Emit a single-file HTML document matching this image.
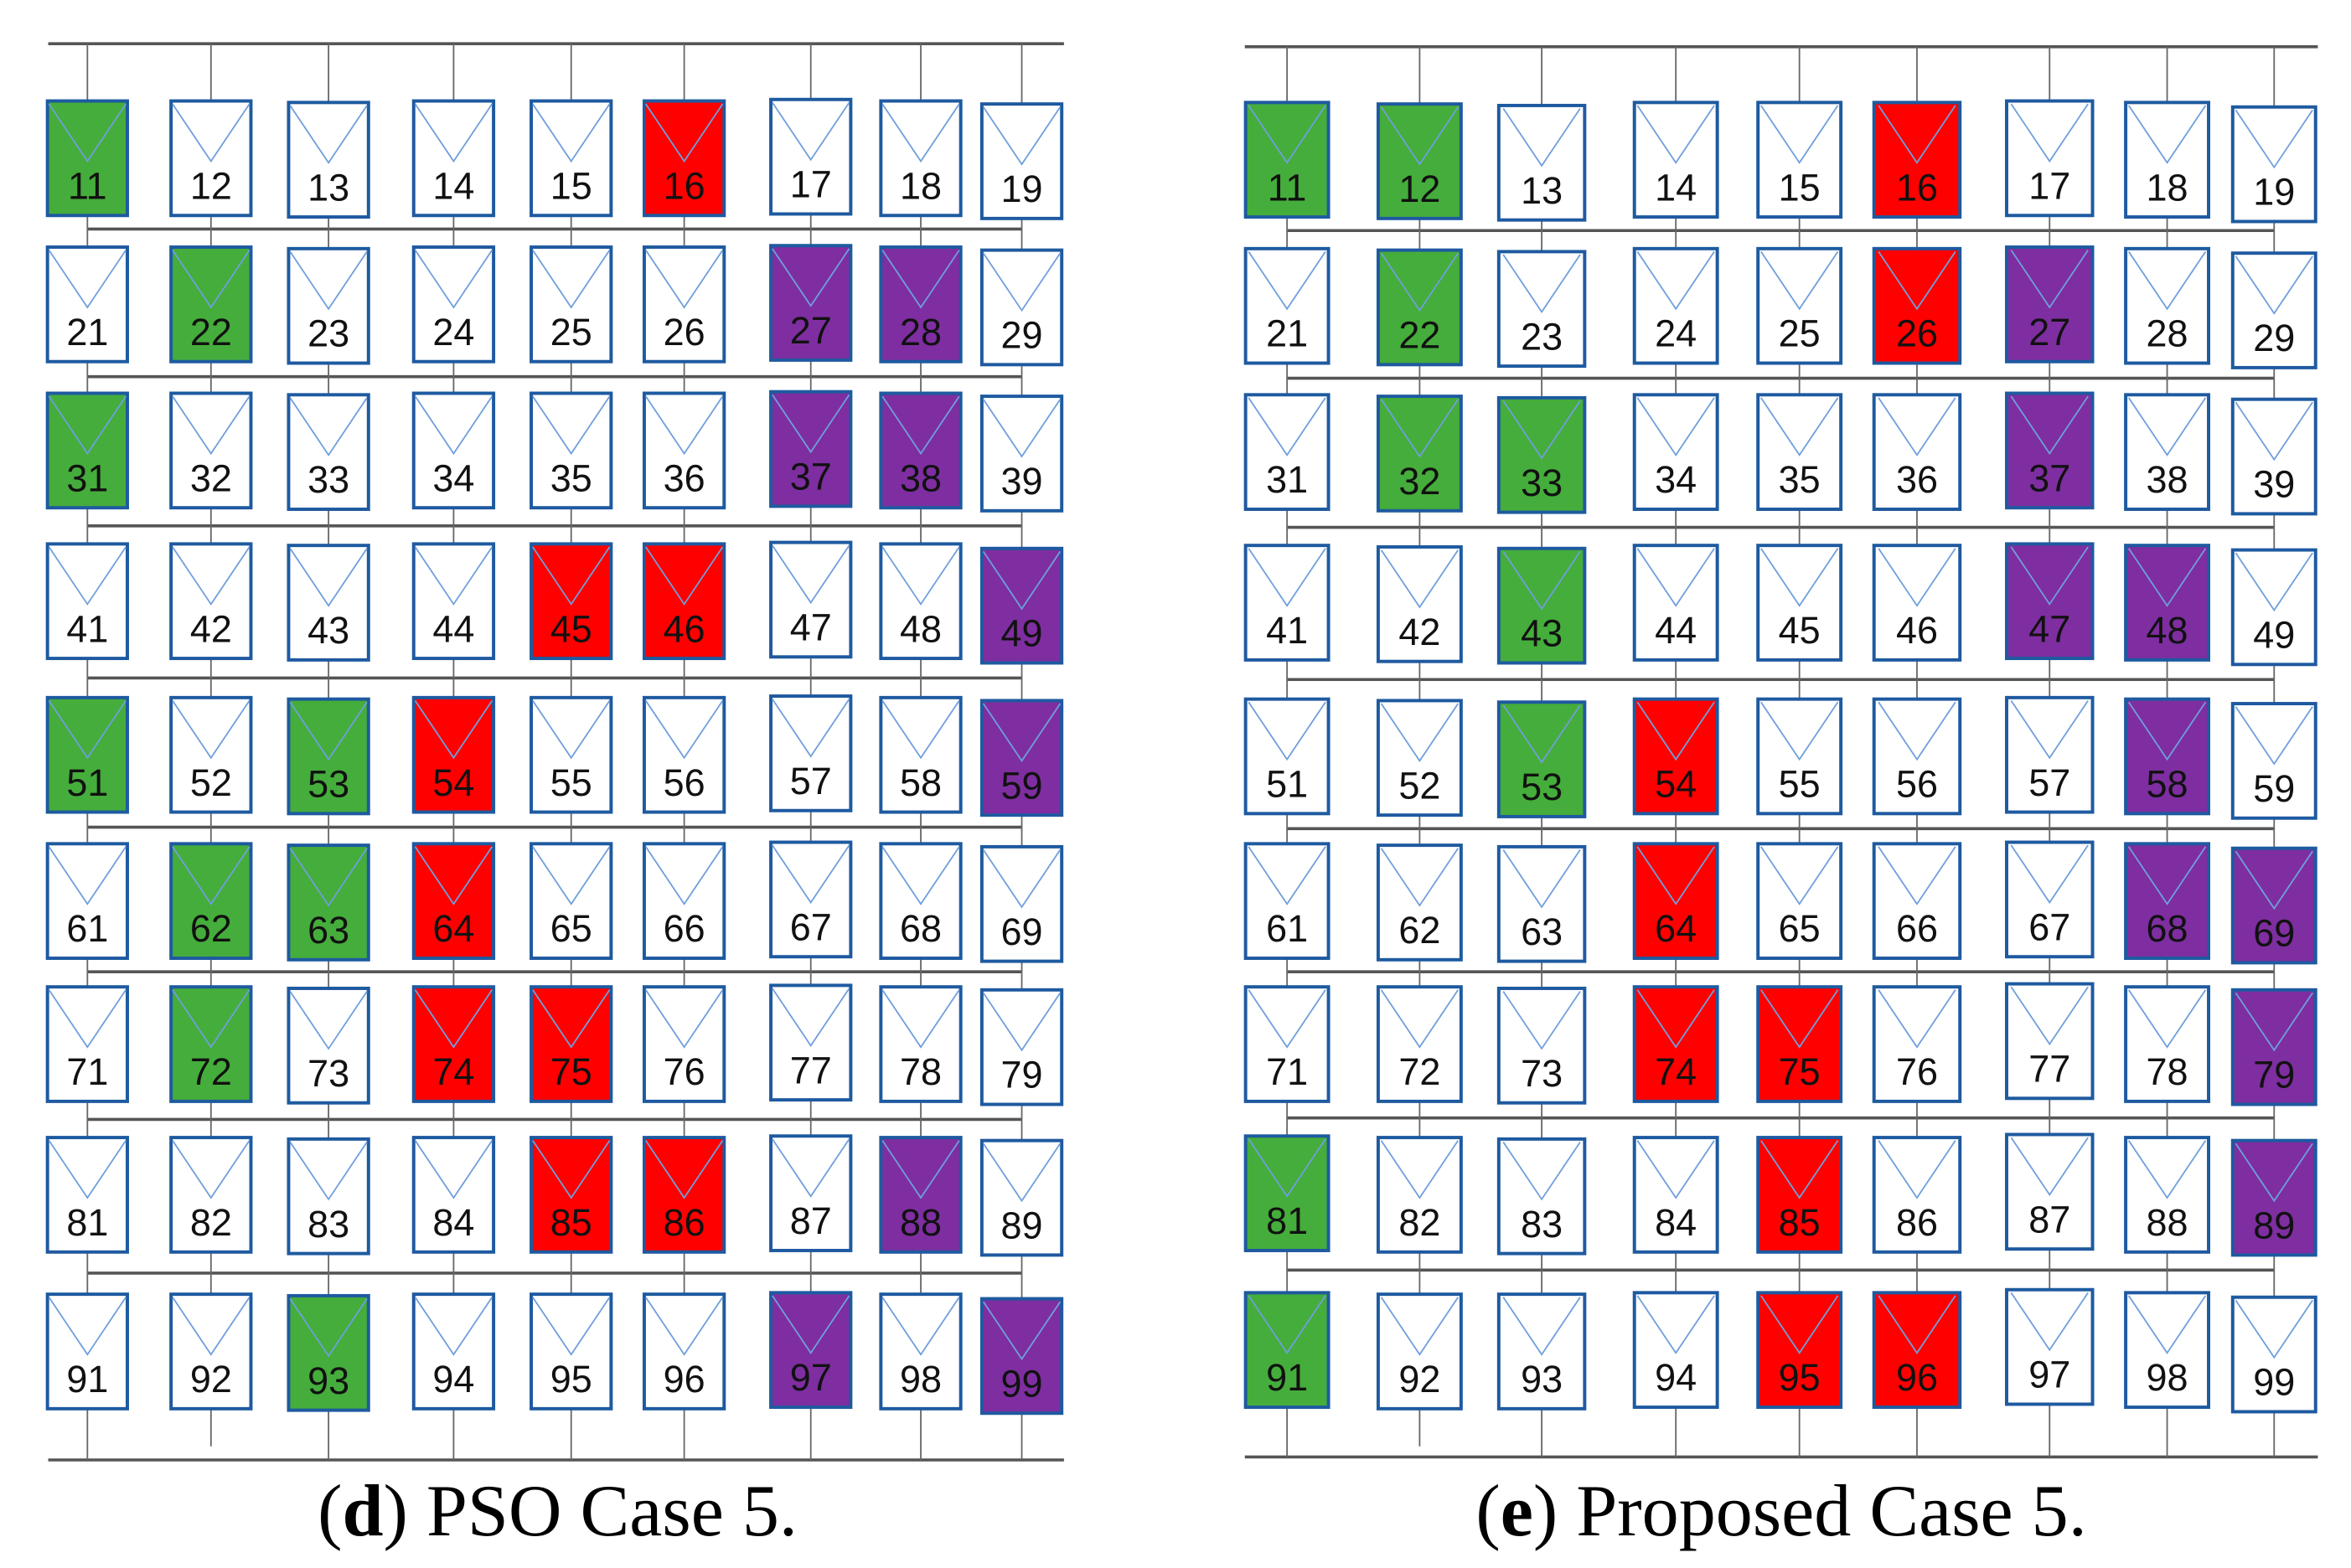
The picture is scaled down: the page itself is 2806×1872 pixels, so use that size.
<!DOCTYPE html>
<html><head><meta charset="utf-8"><style>
html,body{margin:0;padding:0;background:#fff}
svg{display:block}
.b{stroke:#1e5aa0;stroke-width:2.2}
.w{fill:#fff}.g{fill:#45ad3b}.r{fill:#ff0000}.p{fill:#7e2ea0}
.t{fill:none;stroke:#6f9fdc;stroke-width:1}
text.n{font-family:"Liberation Sans Narrow","Liberation Sans",sans-serif;font-size:25px;text-anchor:middle;fill:#111}
.h{stroke:#555;stroke-width:2}
.v{stroke:#666;stroke-width:1}
text.cap{font-family:"Liberation Serif",serif;font-size:49px;text-anchor:middle;fill:#000}
</style></head><body>
<svg width="2806" height="1872" viewBox="0 0 1560 1040.7" xmlns="http://www.w3.org/2000/svg">
<defs><polyline id="tri" class="t" points="1,2 26.5,40 52,2"/></defs>
<g>
<line class="h" x1="32" y1="29" x2="706" y2="29"/>
<line class="h" x1="32" y1="969" x2="706" y2="969"/>
<line class="h" x1="826" y1="31" x2="1538" y2="31"/>
<line class="h" x1="826" y1="967" x2="1538" y2="967"/>
<g>
<line class="h" x1="58" y1="152" x2="678" y2="152"/>
<line class="h" x1="58" y1="250" x2="678" y2="250"/>
<line class="h" x1="58" y1="349" x2="678" y2="349"/>
<line class="h" x1="58" y1="450" x2="678" y2="450"/>
<line class="h" x1="58" y1="549" x2="678" y2="549"/>
<line class="h" x1="58" y1="645" x2="678" y2="645"/>
<line class="h" x1="58" y1="743" x2="678" y2="743"/>
<line class="h" x1="58" y1="845" x2="678" y2="845"/>
</g>
<g>
<line class="h" x1="854" y1="153" x2="1509" y2="153"/>
<line class="h" x1="854" y1="251" x2="1509" y2="251"/>
<line class="h" x1="854" y1="350" x2="1509" y2="350"/>
<line class="h" x1="854" y1="451" x2="1509" y2="451"/>
<line class="h" x1="854" y1="550" x2="1509" y2="550"/>
<line class="h" x1="854" y1="645" x2="1509" y2="645"/>
<line class="h" x1="854" y1="742" x2="1509" y2="742"/>
<line class="h" x1="854" y1="843" x2="1509" y2="843"/>
</g>
<line class="v" x1="58" y1="29" x2="58" y2="969"/><line class="v" x1="140" y1="29" x2="140" y2="960"/><line class="v" x1="218" y1="29" x2="218" y2="969"/><line class="v" x1="301" y1="29" x2="301" y2="969"/><line class="v" x1="379" y1="29" x2="379" y2="969"/><line class="v" x1="454" y1="29" x2="454" y2="969"/><line class="v" x1="538" y1="29" x2="538" y2="969"/><line class="v" x1="611" y1="29" x2="611" y2="969"/><line class="v" x1="678" y1="29" x2="678" y2="969"/>
<line class="v" x1="854" y1="31" x2="854" y2="967"/><line class="v" x1="942" y1="31" x2="942" y2="960"/><line class="v" x1="1023" y1="31" x2="1023" y2="967"/><line class="v" x1="1112" y1="31" x2="1112" y2="967"/><line class="v" x1="1194" y1="31" x2="1194" y2="967"/><line class="v" x1="1272" y1="31" x2="1272" y2="967"/><line class="v" x1="1360" y1="31" x2="1360" y2="967"/><line class="v" x1="1438" y1="31" x2="1438" y2="967"/><line class="v" x1="1509" y1="31" x2="1509" y2="967"/>
</g>
<!-- LEFT PANEL -->
<g>
<rect class="b g" x="31.5" y="67" width="53" height="76"/><use href="#tri" x="31.5" y="67"/><text class="n" x="58" y="132">11</text>
<rect class="b w" x="113.5" y="67" width="53" height="76"/><use href="#tri" x="113.5" y="67"/><text class="n" x="140" y="132">12</text>
<rect class="b w" x="191.5" y="68" width="53" height="76"/><use href="#tri" x="191.5" y="68"/><text class="n" x="218" y="133">13</text>
<rect class="b w" x="274.5" y="67" width="53" height="76"/><use href="#tri" x="274.5" y="67"/><text class="n" x="301" y="132">14</text>
<rect class="b w" x="352.5" y="67" width="53" height="76"/><use href="#tri" x="352.5" y="67"/><text class="n" x="379" y="132">15</text>
<rect class="b r" x="427.5" y="67" width="53" height="76"/><use href="#tri" x="427.5" y="67"/><text class="n" x="454" y="132">16</text>
<rect class="b w" x="511.5" y="66" width="53" height="76"/><use href="#tri" x="511.5" y="66"/><text class="n" x="538" y="131">17</text>
<rect class="b w" x="584.5" y="67" width="53" height="76"/><use href="#tri" x="584.5" y="67"/><text class="n" x="611" y="132">18</text>
<rect class="b w" x="651.5" y="69" width="53" height="76"/><use href="#tri" x="651.5" y="69"/><text class="n" x="678" y="134">19</text>
<rect class="b w" x="31.5" y="164" width="53" height="76"/><use href="#tri" x="31.5" y="164"/><text class="n" x="58" y="229">21</text>
<rect class="b g" x="113.5" y="164" width="53" height="76"/><use href="#tri" x="113.5" y="164"/><text class="n" x="140" y="229">22</text>
<rect class="b w" x="191.5" y="165" width="53" height="76"/><use href="#tri" x="191.5" y="165"/><text class="n" x="218" y="230">23</text>
<rect class="b w" x="274.5" y="164" width="53" height="76"/><use href="#tri" x="274.5" y="164"/><text class="n" x="301" y="229">24</text>
<rect class="b w" x="352.5" y="164" width="53" height="76"/><use href="#tri" x="352.5" y="164"/><text class="n" x="379" y="229">25</text>
<rect class="b w" x="427.5" y="164" width="53" height="76"/><use href="#tri" x="427.5" y="164"/><text class="n" x="454" y="229">26</text>
<rect class="b p" x="511.5" y="163" width="53" height="76"/><use href="#tri" x="511.5" y="163"/><text class="n" x="538" y="228">27</text>
<rect class="b p" x="584.5" y="164" width="53" height="76"/><use href="#tri" x="584.5" y="164"/><text class="n" x="611" y="229">28</text>
<rect class="b w" x="651.5" y="166" width="53" height="76"/><use href="#tri" x="651.5" y="166"/><text class="n" x="678" y="231">29</text>
<rect class="b g" x="31.5" y="261" width="53" height="76"/><use href="#tri" x="31.5" y="261"/><text class="n" x="58" y="326">31</text>
<rect class="b w" x="113.5" y="261" width="53" height="76"/><use href="#tri" x="113.5" y="261"/><text class="n" x="140" y="326">32</text>
<rect class="b w" x="191.5" y="262" width="53" height="76"/><use href="#tri" x="191.5" y="262"/><text class="n" x="218" y="327">33</text>
<rect class="b w" x="274.5" y="261" width="53" height="76"/><use href="#tri" x="274.5" y="261"/><text class="n" x="301" y="326">34</text>
<rect class="b w" x="352.5" y="261" width="53" height="76"/><use href="#tri" x="352.5" y="261"/><text class="n" x="379" y="326">35</text>
<rect class="b w" x="427.5" y="261" width="53" height="76"/><use href="#tri" x="427.5" y="261"/><text class="n" x="454" y="326">36</text>
<rect class="b p" x="511.5" y="260" width="53" height="76"/><use href="#tri" x="511.5" y="260"/><text class="n" x="538" y="325">37</text>
<rect class="b p" x="584.5" y="261" width="53" height="76"/><use href="#tri" x="584.5" y="261"/><text class="n" x="611" y="326">38</text>
<rect class="b w" x="651.5" y="263" width="53" height="76"/><use href="#tri" x="651.5" y="263"/><text class="n" x="678" y="328">39</text>
<rect class="b w" x="31.5" y="361" width="53" height="76"/><use href="#tri" x="31.5" y="361"/><text class="n" x="58" y="426">41</text>
<rect class="b w" x="113.5" y="361" width="53" height="76"/><use href="#tri" x="113.5" y="361"/><text class="n" x="140" y="426">42</text>
<rect class="b w" x="191.5" y="362" width="53" height="76"/><use href="#tri" x="191.5" y="362"/><text class="n" x="218" y="427">43</text>
<rect class="b w" x="274.5" y="361" width="53" height="76"/><use href="#tri" x="274.5" y="361"/><text class="n" x="301" y="426">44</text>
<rect class="b r" x="352.5" y="361" width="53" height="76"/><use href="#tri" x="352.5" y="361"/><text class="n" x="379" y="426">45</text>
<rect class="b r" x="427.5" y="361" width="53" height="76"/><use href="#tri" x="427.5" y="361"/><text class="n" x="454" y="426">46</text>
<rect class="b w" x="511.5" y="360" width="53" height="76"/><use href="#tri" x="511.5" y="360"/><text class="n" x="538" y="425">47</text>
<rect class="b w" x="584.5" y="361" width="53" height="76"/><use href="#tri" x="584.5" y="361"/><text class="n" x="611" y="426">48</text>
<rect class="b p" x="651.5" y="364" width="53" height="76"/><use href="#tri" x="651.5" y="364"/><text class="n" x="678" y="429">49</text>
<rect class="b g" x="31.5" y="463" width="53" height="76"/><use href="#tri" x="31.5" y="463"/><text class="n" x="58" y="528">51</text>
<rect class="b w" x="113.5" y="463" width="53" height="76"/><use href="#tri" x="113.5" y="463"/><text class="n" x="140" y="528">52</text>
<rect class="b g" x="191.5" y="464" width="53" height="76"/><use href="#tri" x="191.5" y="464"/><text class="n" x="218" y="529">53</text>
<rect class="b r" x="274.5" y="463" width="53" height="76"/><use href="#tri" x="274.5" y="463"/><text class="n" x="301" y="528">54</text>
<rect class="b w" x="352.5" y="463" width="53" height="76"/><use href="#tri" x="352.5" y="463"/><text class="n" x="379" y="528">55</text>
<rect class="b w" x="427.5" y="463" width="53" height="76"/><use href="#tri" x="427.5" y="463"/><text class="n" x="454" y="528">56</text>
<rect class="b w" x="511.5" y="462" width="53" height="76"/><use href="#tri" x="511.5" y="462"/><text class="n" x="538" y="527">57</text>
<rect class="b w" x="584.5" y="463" width="53" height="76"/><use href="#tri" x="584.5" y="463"/><text class="n" x="611" y="528">58</text>
<rect class="b p" x="651.5" y="465" width="53" height="76"/><use href="#tri" x="651.5" y="465"/><text class="n" x="678" y="530">59</text>
<rect class="b w" x="31.5" y="560" width="53" height="76"/><use href="#tri" x="31.5" y="560"/><text class="n" x="58" y="625">61</text>
<rect class="b g" x="113.5" y="560" width="53" height="76"/><use href="#tri" x="113.5" y="560"/><text class="n" x="140" y="625">62</text>
<rect class="b g" x="191.5" y="561" width="53" height="76"/><use href="#tri" x="191.5" y="561"/><text class="n" x="218" y="626">63</text>
<rect class="b r" x="274.5" y="560" width="53" height="76"/><use href="#tri" x="274.5" y="560"/><text class="n" x="301" y="625">64</text>
<rect class="b w" x="352.5" y="560" width="53" height="76"/><use href="#tri" x="352.5" y="560"/><text class="n" x="379" y="625">65</text>
<rect class="b w" x="427.5" y="560" width="53" height="76"/><use href="#tri" x="427.5" y="560"/><text class="n" x="454" y="625">66</text>
<rect class="b w" x="511.5" y="559" width="53" height="76"/><use href="#tri" x="511.5" y="559"/><text class="n" x="538" y="624">67</text>
<rect class="b w" x="584.5" y="560" width="53" height="76"/><use href="#tri" x="584.5" y="560"/><text class="n" x="611" y="625">68</text>
<rect class="b w" x="651.5" y="562" width="53" height="76"/><use href="#tri" x="651.5" y="562"/><text class="n" x="678" y="627">69</text>
<rect class="b w" x="31.5" y="655" width="53" height="76"/><use href="#tri" x="31.5" y="655"/><text class="n" x="58" y="720">71</text>
<rect class="b g" x="113.5" y="655" width="53" height="76"/><use href="#tri" x="113.5" y="655"/><text class="n" x="140" y="720">72</text>
<rect class="b w" x="191.5" y="656" width="53" height="76"/><use href="#tri" x="191.5" y="656"/><text class="n" x="218" y="721">73</text>
<rect class="b r" x="274.5" y="655" width="53" height="76"/><use href="#tri" x="274.5" y="655"/><text class="n" x="301" y="720">74</text>
<rect class="b r" x="352.5" y="655" width="53" height="76"/><use href="#tri" x="352.5" y="655"/><text class="n" x="379" y="720">75</text>
<rect class="b w" x="427.5" y="655" width="53" height="76"/><use href="#tri" x="427.5" y="655"/><text class="n" x="454" y="720">76</text>
<rect class="b w" x="511.5" y="654" width="53" height="76"/><use href="#tri" x="511.5" y="654"/><text class="n" x="538" y="719">77</text>
<rect class="b w" x="584.5" y="655" width="53" height="76"/><use href="#tri" x="584.5" y="655"/><text class="n" x="611" y="720">78</text>
<rect class="b w" x="651.5" y="657" width="53" height="76"/><use href="#tri" x="651.5" y="657"/><text class="n" x="678" y="722">79</text>
<rect class="b w" x="31.5" y="755" width="53" height="76"/><use href="#tri" x="31.5" y="755"/><text class="n" x="58" y="820">81</text>
<rect class="b w" x="113.5" y="755" width="53" height="76"/><use href="#tri" x="113.5" y="755"/><text class="n" x="140" y="820">82</text>
<rect class="b w" x="191.5" y="756" width="53" height="76"/><use href="#tri" x="191.5" y="756"/><text class="n" x="218" y="821">83</text>
<rect class="b w" x="274.5" y="755" width="53" height="76"/><use href="#tri" x="274.5" y="755"/><text class="n" x="301" y="820">84</text>
<rect class="b r" x="352.5" y="755" width="53" height="76"/><use href="#tri" x="352.5" y="755"/><text class="n" x="379" y="820">85</text>
<rect class="b r" x="427.5" y="755" width="53" height="76"/><use href="#tri" x="427.5" y="755"/><text class="n" x="454" y="820">86</text>
<rect class="b w" x="511.5" y="754" width="53" height="76"/><use href="#tri" x="511.5" y="754"/><text class="n" x="538" y="819">87</text>
<rect class="b p" x="584.5" y="755" width="53" height="76"/><use href="#tri" x="584.5" y="755"/><text class="n" x="611" y="820">88</text>
<rect class="b w" x="651.5" y="757" width="53" height="76"/><use href="#tri" x="651.5" y="757"/><text class="n" x="678" y="822">89</text>
<rect class="b w" x="31.5" y="859" width="53" height="76"/><use href="#tri" x="31.5" y="859"/><text class="n" x="58" y="924">91</text>
<rect class="b w" x="113.5" y="859" width="53" height="76"/><use href="#tri" x="113.5" y="859"/><text class="n" x="140" y="924">92</text>
<rect class="b g" x="191.5" y="860" width="53" height="76"/><use href="#tri" x="191.5" y="860"/><text class="n" x="218" y="925">93</text>
<rect class="b w" x="274.5" y="859" width="53" height="76"/><use href="#tri" x="274.5" y="859"/><text class="n" x="301" y="924">94</text>
<rect class="b w" x="352.5" y="859" width="53" height="76"/><use href="#tri" x="352.5" y="859"/><text class="n" x="379" y="924">95</text>
<rect class="b w" x="427.5" y="859" width="53" height="76"/><use href="#tri" x="427.5" y="859"/><text class="n" x="454" y="924">96</text>
<rect class="b p" x="511.5" y="858" width="53" height="76"/><use href="#tri" x="511.5" y="858"/><text class="n" x="538" y="923">97</text>
<rect class="b w" x="584.5" y="859" width="53" height="76"/><use href="#tri" x="584.5" y="859"/><text class="n" x="611" y="924">98</text>
<rect class="b p" x="651.5" y="862" width="53" height="76"/><use href="#tri" x="651.5" y="862"/><text class="n" x="678" y="927">99</text>
</g>
<!-- RIGHT PANEL -->
<g>
<rect class="b g" x="826.5" y="68" width="55" height="76"/><use href="#tri" x="827.5" y="68"/><text class="n" x="854" y="133">11</text>
<rect class="b g" x="914.5" y="69" width="55" height="76"/><use href="#tri" x="915.5" y="69"/><text class="n" x="942" y="134">12</text>
<rect class="b w" x="994.5" y="70" width="57" height="76"/><use href="#tri" x="996.5" y="70"/><text class="n" x="1023" y="135">13</text>
<rect class="b w" x="1084.5" y="68" width="55" height="76"/><use href="#tri" x="1085.5" y="68"/><text class="n" x="1112" y="133">14</text>
<rect class="b w" x="1166.5" y="68" width="55" height="76"/><use href="#tri" x="1167.5" y="68"/><text class="n" x="1194" y="133">15</text>
<rect class="b r" x="1243.5" y="68" width="57" height="76"/><use href="#tri" x="1245.5" y="68"/><text class="n" x="1272" y="133">16</text>
<rect class="b w" x="1331.5" y="67" width="57" height="76"/><use href="#tri" x="1333.5" y="67"/><text class="n" x="1360" y="132">17</text>
<rect class="b w" x="1410.5" y="68" width="55" height="76"/><use href="#tri" x="1411.5" y="68"/><text class="n" x="1438" y="133">18</text>
<rect class="b w" x="1481.5" y="71" width="55" height="76"/><use href="#tri" x="1482.5" y="71"/><text class="n" x="1509" y="136">19</text>
<rect class="b w" x="826.5" y="165" width="55" height="76"/><use href="#tri" x="827.5" y="165"/><text class="n" x="854" y="230">21</text>
<rect class="b g" x="914.5" y="166" width="55" height="76"/><use href="#tri" x="915.5" y="166"/><text class="n" x="942" y="231">22</text>
<rect class="b w" x="994.5" y="167" width="57" height="76"/><use href="#tri" x="996.5" y="167"/><text class="n" x="1023" y="232">23</text>
<rect class="b w" x="1084.5" y="165" width="55" height="76"/><use href="#tri" x="1085.5" y="165"/><text class="n" x="1112" y="230">24</text>
<rect class="b w" x="1166.5" y="165" width="55" height="76"/><use href="#tri" x="1167.5" y="165"/><text class="n" x="1194" y="230">25</text>
<rect class="b r" x="1243.5" y="165" width="57" height="76"/><use href="#tri" x="1245.5" y="165"/><text class="n" x="1272" y="230">26</text>
<rect class="b p" x="1331.5" y="164" width="57" height="76"/><use href="#tri" x="1333.5" y="164"/><text class="n" x="1360" y="229">27</text>
<rect class="b w" x="1410.5" y="165" width="55" height="76"/><use href="#tri" x="1411.5" y="165"/><text class="n" x="1438" y="230">28</text>
<rect class="b w" x="1481.5" y="168" width="55" height="76"/><use href="#tri" x="1482.5" y="168"/><text class="n" x="1509" y="233">29</text>
<rect class="b w" x="826.5" y="262" width="55" height="76"/><use href="#tri" x="827.5" y="262"/><text class="n" x="854" y="327">31</text>
<rect class="b g" x="914.5" y="263" width="55" height="76"/><use href="#tri" x="915.5" y="263"/><text class="n" x="942" y="328">32</text>
<rect class="b g" x="994.5" y="264" width="57" height="76"/><use href="#tri" x="996.5" y="264"/><text class="n" x="1023" y="329">33</text>
<rect class="b w" x="1084.5" y="262" width="55" height="76"/><use href="#tri" x="1085.5" y="262"/><text class="n" x="1112" y="327">34</text>
<rect class="b w" x="1166.5" y="262" width="55" height="76"/><use href="#tri" x="1167.5" y="262"/><text class="n" x="1194" y="327">35</text>
<rect class="b w" x="1243.5" y="262" width="57" height="76"/><use href="#tri" x="1245.5" y="262"/><text class="n" x="1272" y="327">36</text>
<rect class="b p" x="1331.5" y="261" width="57" height="76"/><use href="#tri" x="1333.5" y="261"/><text class="n" x="1360" y="326">37</text>
<rect class="b w" x="1410.5" y="262" width="55" height="76"/><use href="#tri" x="1411.5" y="262"/><text class="n" x="1438" y="327">38</text>
<rect class="b w" x="1481.5" y="265" width="55" height="76"/><use href="#tri" x="1482.5" y="265"/><text class="n" x="1509" y="330">39</text>
<rect class="b w" x="826.5" y="362" width="55" height="76"/><use href="#tri" x="827.5" y="362"/><text class="n" x="854" y="427">41</text>
<rect class="b w" x="914.5" y="363" width="55" height="76"/><use href="#tri" x="915.5" y="363"/><text class="n" x="942" y="428">42</text>
<rect class="b g" x="994.5" y="364" width="57" height="76"/><use href="#tri" x="996.5" y="364"/><text class="n" x="1023" y="429">43</text>
<rect class="b w" x="1084.5" y="362" width="55" height="76"/><use href="#tri" x="1085.5" y="362"/><text class="n" x="1112" y="427">44</text>
<rect class="b w" x="1166.5" y="362" width="55" height="76"/><use href="#tri" x="1167.5" y="362"/><text class="n" x="1194" y="427">45</text>
<rect class="b w" x="1243.5" y="362" width="57" height="76"/><use href="#tri" x="1245.5" y="362"/><text class="n" x="1272" y="427">46</text>
<rect class="b p" x="1331.5" y="361" width="57" height="76"/><use href="#tri" x="1333.5" y="361"/><text class="n" x="1360" y="426">47</text>
<rect class="b p" x="1410.5" y="362" width="55" height="76"/><use href="#tri" x="1411.5" y="362"/><text class="n" x="1438" y="427">48</text>
<rect class="b w" x="1481.5" y="365" width="55" height="76"/><use href="#tri" x="1482.5" y="365"/><text class="n" x="1509" y="430">49</text>
<rect class="b w" x="826.5" y="464" width="55" height="76"/><use href="#tri" x="827.5" y="464"/><text class="n" x="854" y="529">51</text>
<rect class="b w" x="914.5" y="465" width="55" height="76"/><use href="#tri" x="915.5" y="465"/><text class="n" x="942" y="530">52</text>
<rect class="b g" x="994.5" y="466" width="57" height="76"/><use href="#tri" x="996.5" y="466"/><text class="n" x="1023" y="531">53</text>
<rect class="b r" x="1084.5" y="464" width="55" height="76"/><use href="#tri" x="1085.5" y="464"/><text class="n" x="1112" y="529">54</text>
<rect class="b w" x="1166.5" y="464" width="55" height="76"/><use href="#tri" x="1167.5" y="464"/><text class="n" x="1194" y="529">55</text>
<rect class="b w" x="1243.5" y="464" width="57" height="76"/><use href="#tri" x="1245.5" y="464"/><text class="n" x="1272" y="529">56</text>
<rect class="b w" x="1331.5" y="463" width="57" height="76"/><use href="#tri" x="1333.5" y="463"/><text class="n" x="1360" y="528">57</text>
<rect class="b p" x="1410.5" y="464" width="55" height="76"/><use href="#tri" x="1411.5" y="464"/><text class="n" x="1438" y="529">58</text>
<rect class="b w" x="1481.5" y="467" width="55" height="76"/><use href="#tri" x="1482.5" y="467"/><text class="n" x="1509" y="532">59</text>
<rect class="b w" x="826.5" y="560" width="55" height="76"/><use href="#tri" x="827.5" y="560"/><text class="n" x="854" y="625">61</text>
<rect class="b w" x="914.5" y="561" width="55" height="76"/><use href="#tri" x="915.5" y="561"/><text class="n" x="942" y="626">62</text>
<rect class="b w" x="994.5" y="562" width="57" height="76"/><use href="#tri" x="996.5" y="562"/><text class="n" x="1023" y="627">63</text>
<rect class="b r" x="1084.5" y="560" width="55" height="76"/><use href="#tri" x="1085.5" y="560"/><text class="n" x="1112" y="625">64</text>
<rect class="b w" x="1166.5" y="560" width="55" height="76"/><use href="#tri" x="1167.5" y="560"/><text class="n" x="1194" y="625">65</text>
<rect class="b w" x="1243.5" y="560" width="57" height="76"/><use href="#tri" x="1245.5" y="560"/><text class="n" x="1272" y="625">66</text>
<rect class="b w" x="1331.5" y="559" width="57" height="76"/><use href="#tri" x="1333.5" y="559"/><text class="n" x="1360" y="624">67</text>
<rect class="b p" x="1410.5" y="560" width="55" height="76"/><use href="#tri" x="1411.5" y="560"/><text class="n" x="1438" y="625">68</text>
<rect class="b p" x="1481.5" y="563" width="55" height="76"/><use href="#tri" x="1482.5" y="563"/><text class="n" x="1509" y="628">69</text>
<rect class="b w" x="826.5" y="655" width="55" height="76"/><use href="#tri" x="827.5" y="655"/><text class="n" x="854" y="720">71</text>
<rect class="b w" x="914.5" y="655" width="55" height="76"/><use href="#tri" x="915.5" y="655"/><text class="n" x="942" y="720">72</text>
<rect class="b w" x="994.5" y="656" width="57" height="76"/><use href="#tri" x="996.5" y="656"/><text class="n" x="1023" y="721">73</text>
<rect class="b r" x="1084.5" y="655" width="55" height="76"/><use href="#tri" x="1085.5" y="655"/><text class="n" x="1112" y="720">74</text>
<rect class="b r" x="1166.5" y="655" width="55" height="76"/><use href="#tri" x="1167.5" y="655"/><text class="n" x="1194" y="720">75</text>
<rect class="b w" x="1243.5" y="655" width="57" height="76"/><use href="#tri" x="1245.5" y="655"/><text class="n" x="1272" y="720">76</text>
<rect class="b w" x="1331.5" y="653" width="57" height="76"/><use href="#tri" x="1333.5" y="653"/><text class="n" x="1360" y="718">77</text>
<rect class="b w" x="1410.5" y="655" width="55" height="76"/><use href="#tri" x="1411.5" y="655"/><text class="n" x="1438" y="720">78</text>
<rect class="b p" x="1481.5" y="657" width="55" height="76"/><use href="#tri" x="1482.5" y="657"/><text class="n" x="1509" y="722">79</text>
<rect class="b g" x="826.5" y="754" width="55" height="76"/><use href="#tri" x="827.5" y="754"/><text class="n" x="854" y="819">81</text>
<rect class="b w" x="914.5" y="755" width="55" height="76"/><use href="#tri" x="915.5" y="755"/><text class="n" x="942" y="820">82</text>
<rect class="b w" x="994.5" y="756" width="57" height="76"/><use href="#tri" x="996.5" y="756"/><text class="n" x="1023" y="821">83</text>
<rect class="b w" x="1084.5" y="755" width="55" height="76"/><use href="#tri" x="1085.5" y="755"/><text class="n" x="1112" y="820">84</text>
<rect class="b r" x="1166.5" y="755" width="55" height="76"/><use href="#tri" x="1167.5" y="755"/><text class="n" x="1194" y="820">85</text>
<rect class="b w" x="1243.5" y="755" width="57" height="76"/><use href="#tri" x="1245.5" y="755"/><text class="n" x="1272" y="820">86</text>
<rect class="b w" x="1331.5" y="753" width="57" height="76"/><use href="#tri" x="1333.5" y="753"/><text class="n" x="1360" y="818">87</text>
<rect class="b w" x="1410.5" y="755" width="55" height="76"/><use href="#tri" x="1411.5" y="755"/><text class="n" x="1438" y="820">88</text>
<rect class="b p" x="1481.5" y="757" width="55" height="76"/><use href="#tri" x="1482.5" y="757"/><text class="n" x="1509" y="822">89</text>
<rect class="b g" x="826.5" y="858" width="55" height="76"/><use href="#tri" x="827.5" y="858"/><text class="n" x="854" y="923">91</text>
<rect class="b w" x="914.5" y="859" width="55" height="76"/><use href="#tri" x="915.5" y="859"/><text class="n" x="942" y="924">92</text>
<rect class="b w" x="994.5" y="859" width="57" height="76"/><use href="#tri" x="996.5" y="859"/><text class="n" x="1023" y="924">93</text>
<rect class="b w" x="1084.5" y="858" width="55" height="76"/><use href="#tri" x="1085.5" y="858"/><text class="n" x="1112" y="923">94</text>
<rect class="b r" x="1166.5" y="858" width="55" height="76"/><use href="#tri" x="1167.5" y="858"/><text class="n" x="1194" y="923">95</text>
<rect class="b r" x="1243.5" y="858" width="57" height="76"/><use href="#tri" x="1245.5" y="858"/><text class="n" x="1272" y="923">96</text>
<rect class="b w" x="1331.5" y="856" width="57" height="76"/><use href="#tri" x="1333.5" y="856"/><text class="n" x="1360" y="921">97</text>
<rect class="b w" x="1410.5" y="858" width="55" height="76"/><use href="#tri" x="1411.5" y="858"/><text class="n" x="1438" y="923">98</text>
<rect class="b w" x="1481.5" y="861" width="55" height="76"/><use href="#tri" x="1482.5" y="861"/><text class="n" x="1509" y="926">99</text>
</g>
<text class="cap" x="370" y="1019">(<tspan font-weight="bold">d</tspan>) PSO Case 5.</text>
<text class="cap" x="1182" y="1019">(<tspan font-weight="bold">e</tspan>) Proposed Case 5.</text>
</svg>
</body></html>
